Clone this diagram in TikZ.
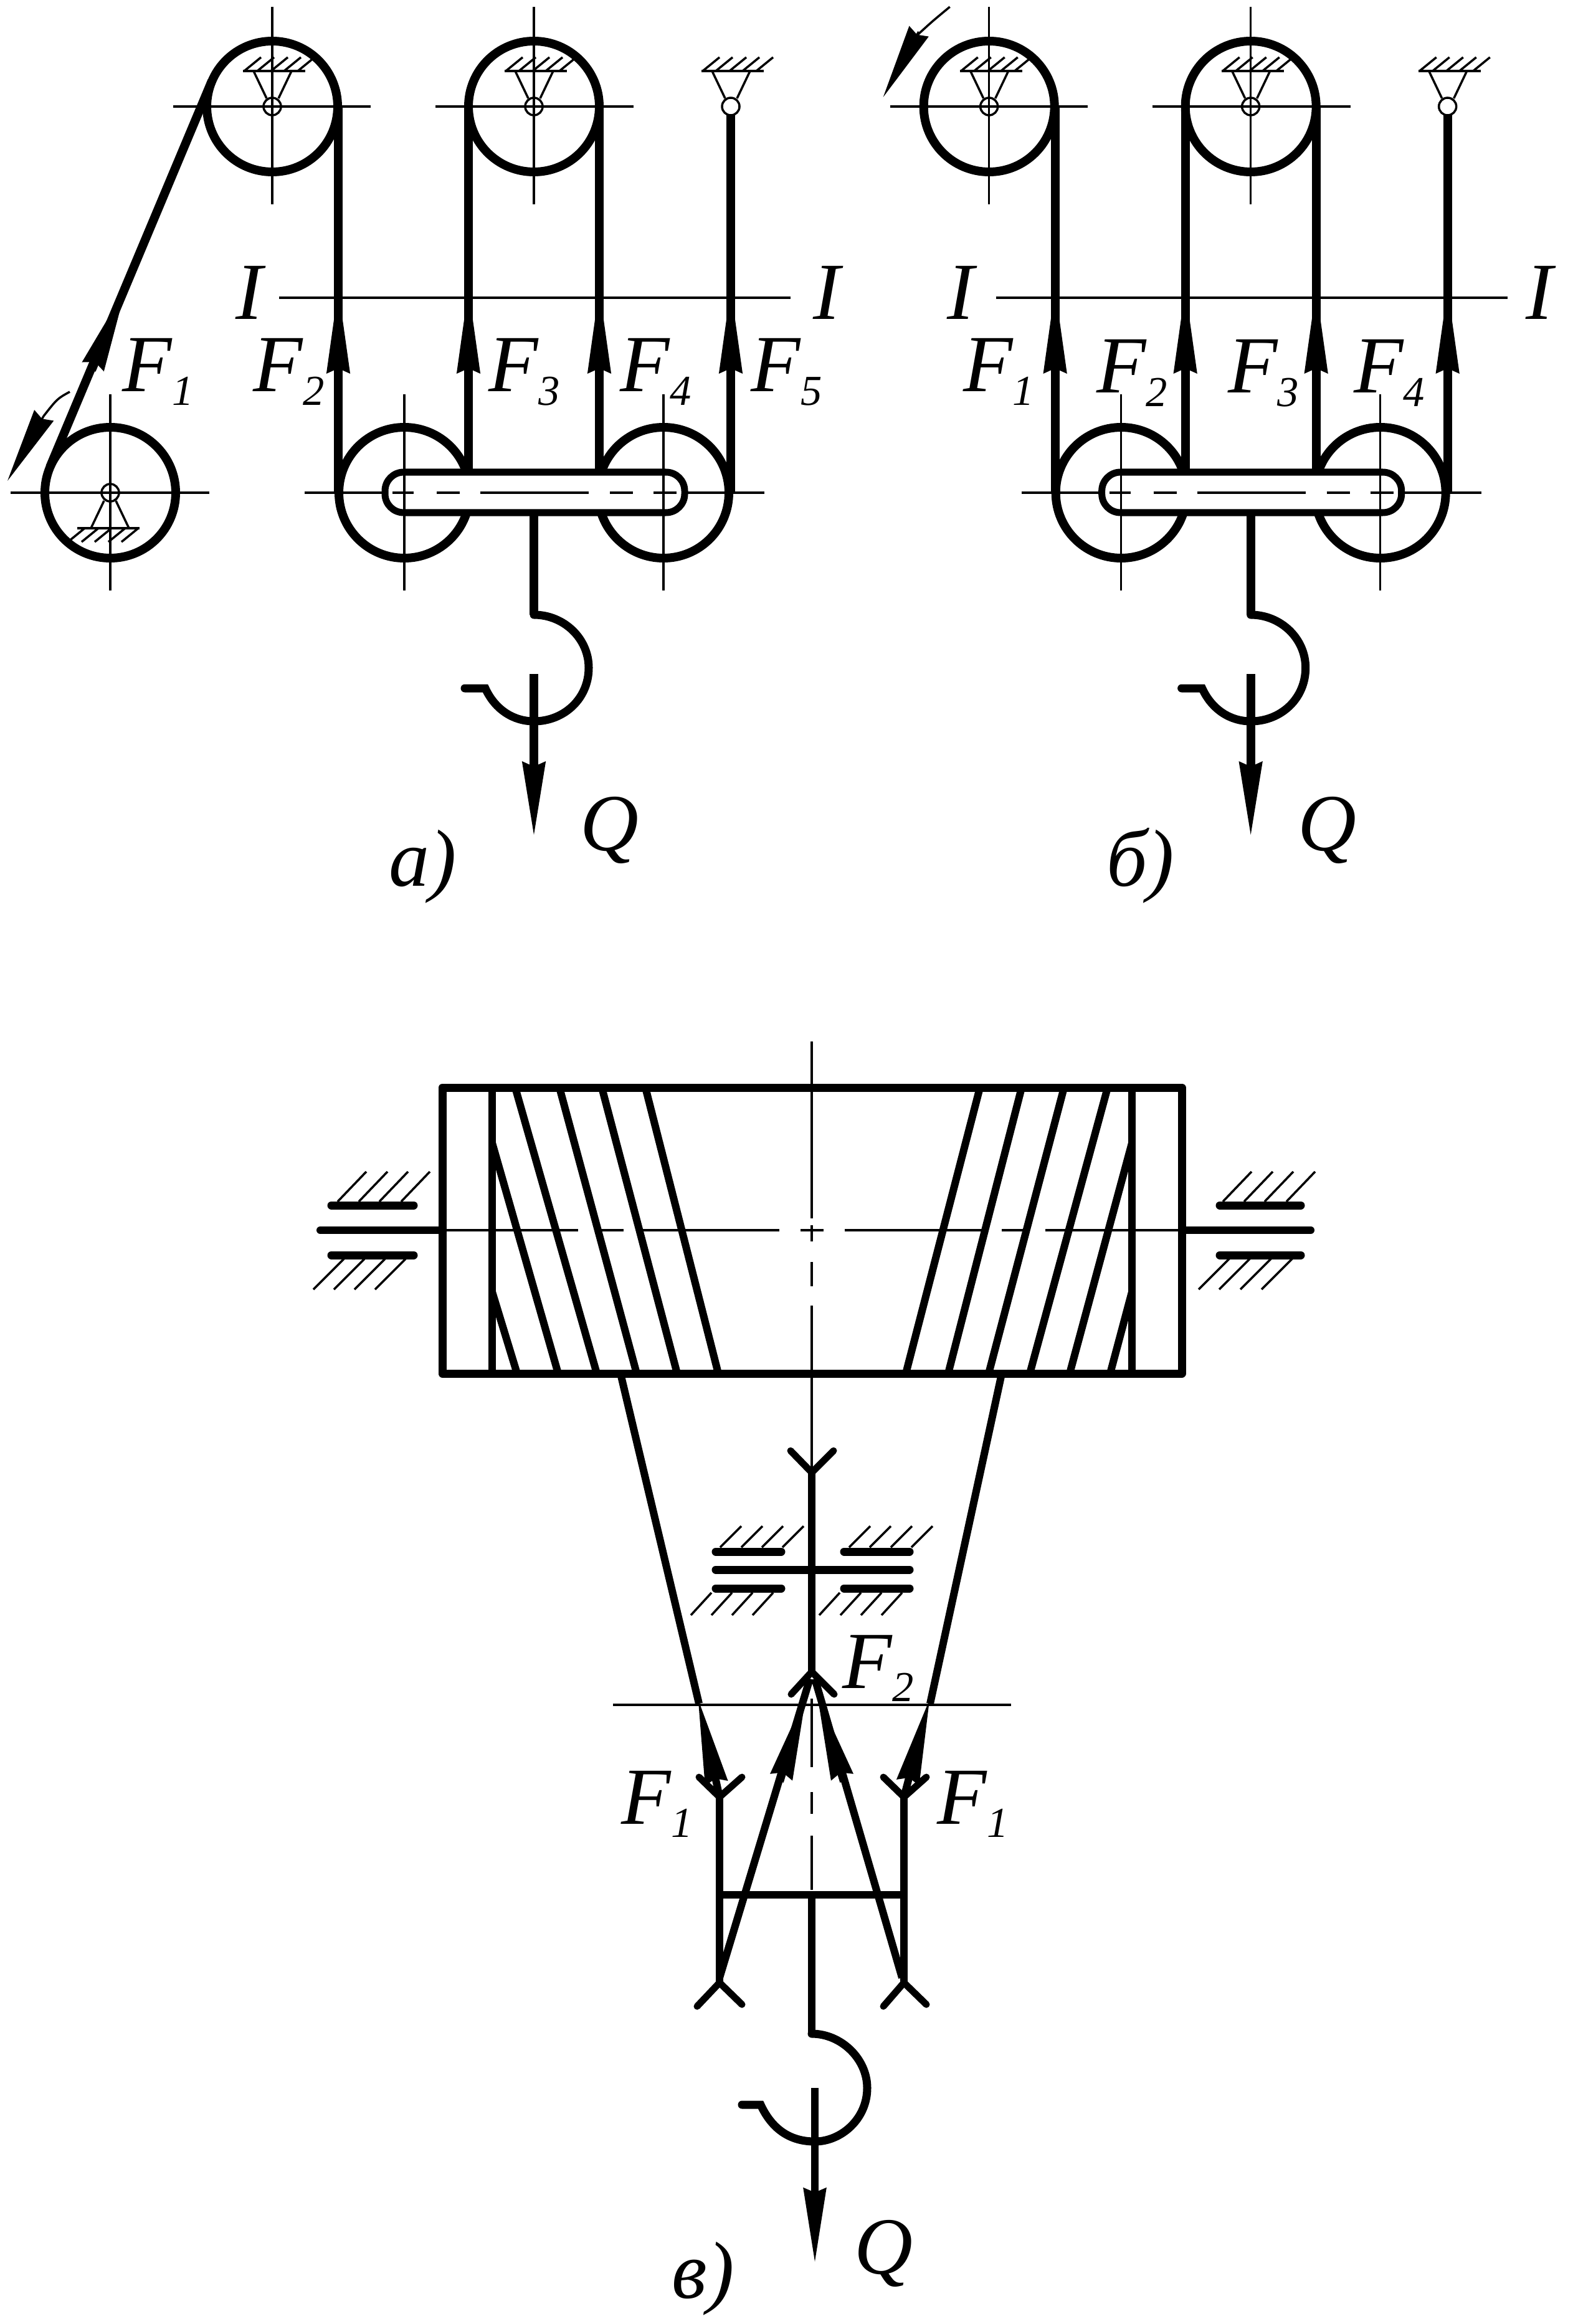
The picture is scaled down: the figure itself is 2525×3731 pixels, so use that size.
\documentclass[tikz,border=0pt]{standalone}
\usepackage{fontspec}
\setmainfont{Liberation Serif}
\usetikzlibrary{arrows.meta}

\tikzset{
  thinline/.style={line width=0.035cm},
  thickline/.style={line width=0.14cm},
  beltline/.style={line width=0.12cm},
  forcetip/.style={-{Stealth[length=1.39cm,width=0.35cm,inset=0.06cm]}},
  loadtip/.style={-{Stealth[length=1.2cm,width=0.35cm,inset=0.06cm]}},
  hookline/.style={line width=0.13cm,line cap=round},
  fork/.style={line width=0.11cm,line cap=round},
  bearing/.style={line width=0.13cm,line cap=round},
  lettering/.style={inner sep=0pt,anchor=base west,font=\fontsize{37}{37}\selectfont\itshape}
}

\newcommand{\subfig}[1]{\lower6pt\hbox{\fontsize{19.5}{20}\selectfont\itshape #1}}

% fixed hinge: x, y, turn
\newcommand{\hinge}[3]{%
  \begin{scope}[shift={(#1,#2)},rotate=#3]
    \draw [thinline] (0,0) circle (14);
    \draw [thinline] (-9,-13) -- (-30,-57);
    \draw [thinline] (10,-13) -- (31,-57);
    \draw [thinline] (-47,-57) -- (53,-57);
    \foreach \hx in {-45,-24,-2,19,41} {\draw [thinline] (\hx,-57) -- ++(27,-22);}
  \end{scope}}

% block with hook, the same in a) and b)
\newcommand{\blockpart}{%
  % Drawing circle of top pulleys
  \draw [thickline] (437,171) circle (105);
  \draw [thickline] (857,171) circle (105);
  \hinge{437}{171}{0}
  \hinge{857}{171}{0}
  \hinge{1173}{171}{0}

  % Drawing centre lines of top pulleys
  \draw [thinline] (278,171) -- (595,171);
  \draw [thinline] (437,11) -- (437,328);
  \draw [thinline] (699,171) -- (1017,171);
  \draw [thinline] (857,11) -- (857,328);

  % Drawing lower pulleys
  \draw [thickline] (649,791) circle (105);
  \draw [thickline] (1065,791) circle (105);

  % Drawing section line
  \draw [thinline] (448,478) -- (1269,478);

  % Drawing ropes
  \draw [thickline] (543,171) -- (543,791);
  \draw [thickline] (752,171) -- (752,760);
  \draw [thickline] (962,171) -- (962,760);
  \draw [thickline] (1173,184) -- (1173,791);
  \foreach \rx in {543,752,962,1173} {\draw [thickline,forcetip] (\rx,605) -- (\rx,458);}

  % Drawing bar of the block
  \draw [line width=0.11cm,fill=white,rounded corners=0.3cm] (618,758) rectangle (1099,823);

  % Drawing centre lines of the block
  \draw [thinline] (489,791) -- (618,791);
  \draw [thinline] (1099,791) -- (1227,791);
  \draw [thinline] (630,791) -- (664,791);
  \draw [thinline] (701,791) -- (738,791);
  \draw [thinline] (771,791) -- (945,791);
  \draw [thinline] (979,791) -- (1016,791);
  \draw [thinline] (1049,791) -- (1086,791);
  \draw [thinline] (649,633) -- (649,948);
  \draw [thinline] (1065,633) -- (1065,948);

  % Drawing hook
  \draw [thickline] (857,823) -- (857,987);
  \draw [hookline] (857,987) .. controls (905,987) and (945,1025) .. (945,1072)
    .. controls (945,1122) and (905,1158) .. (857,1158) .. controls (825,1158) and (795,1140) .. (779,1105) -- (746,1105);
  \draw [thickline,loadtip] (857,1082) -- (857,1345);
}

\begin{document}
\begin{tikzpicture}[x=0.01cm,y=-0.01cm]
  \useasboundingbox (0,0) rectangle (2525,3731);

  % Scheme a
  \blockpart
  % Drawing drive drum
  \draw [thickline] (177,791) circle (105);
  \hinge{177}{791}{180}
  \draw [thinline] (17,791) -- (336,791);
  \draw [thinline] (177,633) -- (177,948);
  \draw [thickline] (340,130) -- (80,750);
  \draw [thickline,forcetip] (147,594) -- (204,458);
  \draw [thinline] (112,629) .. controls (92,640) .. (70,668);
  \draw [thinline,loadtip] (70,668) -- (12,772);

  \node [lettering] (iaL) at (378,513) {I};
  \node [lettering] (iaR) at (1305,513) {I};
  \node [lettering] (fa1) at (196,629) {F\subfig{1}};
  \node [lettering] (fa2) at (406,629) {F\subfig{2}};
  \node [lettering] (fa3) at (784,629) {F\subfig{3}};
  \node [lettering] (fa4) at (995,629) {F\subfig{4}};
  \node [lettering] (fa5) at (1205,629) {F\subfig{5}};
  \node [lettering] (qa) at (931,1365) {Q};
  \node [lettering] (capa) at (624,1422) {а)};

  % Scheme b
  \begin{scope}[xshift=11.5cm]
    \blockpart
    \draw [thinline] (374,11) .. controls (345,35) .. (320,58);
    \draw [thinline,loadtip] (324,51) -- (267,156);
    \node [lettering] (ibL) at (369,513) {I};
    \node [lettering] (ibR) at (1298,513) {I};
    \node [lettering] (fb1) at (395,629) {F\subfig{1}};
    \node [lettering] (fb2) at (609,631) {F\subfig{2}};
    \node [lettering] (fb3) at (820,631) {F\subfig{3}};
    \node [lettering] (fb4) at (1022,631) {F\subfig{4}};
    \node [lettering] (qb) at (932,1365) {Q};
    \node [lettering] (capb) at (625,1422) {б)};
  \end{scope}

  % Scheme c, drum
  \draw [line width=0.13cm,line join=round] (710,1746) rectangle (1897,2205);
  \draw [beltline] (790,1746) -- (790,2205);
  \draw [beltline] (1817,1746) -- (1817,2205);
  \draw [beltline] (790,2074) -- (830,2205);
  \draw [beltline] (790,1835) -- (896,2205);
  \draw [beltline] (827,1746) -- (958,2205);
  \draw [beltline] (898,1746) -- (1022,2205);
  \draw [beltline] (966,1746) -- (1087,2205);
  \draw [beltline] (1036,1746) -- (1153,2205);
  \draw [beltline] (1817,2074) -- (1782,2205);
  \draw [beltline] (1817,1835) -- (1717,2205);
  \draw [beltline] (1778,1746) -- (1653,2205);
  \draw [beltline] (1708,1746) -- (1587,2205);
  \draw [beltline] (1640,1746) -- (1522,2205);
  \draw [beltline] (1573,1746) -- (1454,2205);

  % Drawing axes of the drum
  \foreach \ax/\bx in {710/928,957/1001,1030/1251,1285/1322,1356/1578,1608/1644,1678/1897} {\draw [thinline] (\ax,1975) -- (\bx,1975);}
  \draw [thinline] (1303,1672) -- (1303,1956);
  \draw [thinline] (1303,1967) -- (1303,1993);
  \draw [thinline] (1303,2026) -- (1303,2065);
  \draw [thinline] (1303,2096) -- (1303,2364);

  % Drawing shaft and bearings of the drum
  \draw [beltline,line cap=round] (514,1975) -- (710,1975);
  \draw [beltline,line cap=round] (1897,1975) -- (2104,1975);
  \draw [bearing] (532,1935) -- (664,1935);
  \draw [bearing] (532,2015) -- (664,2015);
  \draw [bearing] (1958,1935) -- (2088,1935);
  \draw [bearing] (1958,2015) -- (2088,2015);
  \foreach \hx in {542,576,609,644,1963,1997,2030,2065} {\draw [thinline] (\hx,1929) -- ++(46,-48);}
  \foreach \hx in {552,585,618,651,1973,2006,2040,2074} {\draw [thinline] (\hx,2021) -- ++(-49,49);}

  % Drawing balancer bearing
  \draw [beltline] (1303,2364) -- (1303,2684);
  \draw [bearing] (1149,2491) -- (1254,2491);
  \draw [bearing] (1355,2491) -- (1460,2491);
  \draw [bearing] (1149,2520) -- (1460,2520);
  \draw [bearing] (1149,2550) -- (1254,2550);
  \draw [bearing] (1355,2550) -- (1460,2550);
  \foreach \hx in {1156,1190,1223,1256,1363,1396,1430,1463} {\draw [thinline] (\hx,2484) -- ++(34,-34);}
  \foreach \hx in {1142,1175,1208,1241,1348,1382,1415,1448} {\draw [thinline] (\hx,2557) -- ++(-33,36);}

  % Drawing forks
  \draw [fork] (1269,2329) -- (1303,2364) -- (1338,2329);
  \draw [fork] (1270,2720) -- (1303,2684) -- (1339,2720);
  \draw [fork] (1122,2853) -- (1155,2885) -- (1191,2853);
  \draw [fork] (1418,2853) -- (1451,2885) -- (1487,2853);
  \draw [fork] (1119,3221) -- (1155,3183) -- (1191,3218);
  \draw [fork] (1418,3221) -- (1451,3183) -- (1487,3218);

  % Drawing ropes of scheme c
  \draw [thinline] (984,2737) -- (1623,2737);
  \draw [beltline] (996,2205) -- (1122,2735);
  \draw [beltline,forcetip] (1155,2885) -- (1120,2725);
  \draw [beltline] (1608,2205) -- (1493,2735);
  \draw [beltline,forcetip] (1451,2885) -- (1493,2725);
  \draw [beltline] (1155,2885) -- (1155,3183);
  \draw [beltline] (1451,2885) -- (1451,3183);
  \draw [beltline] (1155,3042) -- (1451,3042);
  \draw [beltline] (1155,3175) -- (1300,2695);
  \draw [beltline] (1448,3175) -- (1308,2695);
  \draw [beltline,forcetip] (1252,2860) -- (1295,2718);
  \draw [beltline,forcetip] (1354,2860) -- (1311,2718);

  % Drawing hook of scheme c
  \draw [thinline] (1303,2727) -- (1303,2837);
  \draw [thinline] (1303,2877) -- (1303,2912);
  \draw [thinline] (1303,2947) -- (1303,3034);
  \draw [beltline] (1303,3042) -- (1303,3265);
  \draw [hookline] (1303,3265) .. controls (1350,3265) and (1392,3305) .. (1392,3352)
    .. controls (1392,3402) and (1350,3438) .. (1308,3438) .. controls (1270,3438) and (1240,3420) .. (1221,3379) -- (1191,3379);
  \draw [beltline,loadtip] (1308,3352) -- (1308,3634);

  \node [lettering] (fc2) at (1352,2710) {F\subfig{2}};
  \node [lettering] (fc1L) at (997,2928) {F\subfig{1}};
  \node [lettering] (fc1R) at (1504,2928) {F\subfig{1}};
  \node [lettering] (qc) at (1371,3650) {Q};
  \node [lettering] (capc) at (1078,3689) {в)};
\end{tikzpicture}
\end{document}
